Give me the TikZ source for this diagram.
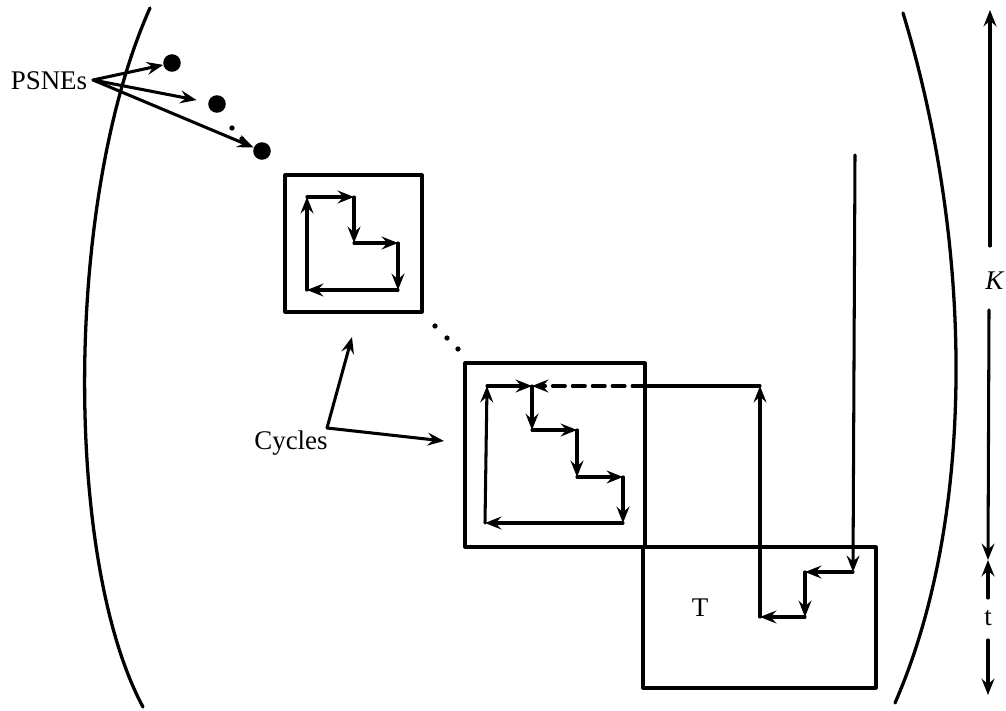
\documentclass[tikz,border=0pt]{standalone}
\usepackage{fontspec}
\setmainfont{Liberation Serif}
\usetikzlibrary{arrows.meta}

\begin{document}
\begin{tikzpicture}[
  x=0.03cm,
  y=-0.03cm,
  line cap=round,
  line join=round,
  >={Stealth[length=14pt,width=11pt,inset=5pt]},
  every node/.style={font=\fontsize{23}{27}\selectfont},
  edge/.style={line width=2.6pt},
  frame/.style={line width=2.6pt},
  bigdot/.style={circle,fill,inner sep=0pt,minimum size=15pt},
  smalldot/.style={circle,fill,inner sep=0pt,minimum size=4.5pt}
]
  \useasboundingbox (0,0) rectangle (1006,711);

  % Grenzkurven links und rechts
  \draw[line width=2.8pt]
    (150,8) .. controls (64,200) and (64,560) .. (143,707);
  \draw[line width=2.8pt]
    (903,13) .. controls (975,250) and (975,520) .. (895,703);

  % Gleichgewichte
  \node (psne) at (49,81) {PSNEs};
  \coordinate (psnefoot) at (93,80);
  \node[bigdot] (nash1) at (172,63) {};
  \node[bigdot] (nash2) at (217,104) {};
  \node[bigdot] (nash3) at (262,151) {};
  \node[smalldot] (gap1) at (232,128) {};
  \node[smalldot] (gap2) at (242,139) {};

  \draw[edge,->] (psnefoot) -- (nash1);
  \draw[edge,->,shorten >=10pt] (psnefoot) -- (nash2);
  \draw[edge,->] (psnefoot) -- (nash3);

  % Kaestchen
  \draw[frame] (285,175) rectangle (422,312);
  \draw[frame] (465,363) rectangle (645,547);
  \draw[frame] (643,547) rectangle (876,688);
  \node (tset) at (700,608) {T};

  % erster Zyklus
  \coordinate (a1) at (307,197);
  \coordinate (b1) at (354,197);
  \coordinate (c1) at (354,243);
  \coordinate (d1) at (398,243);
  \coordinate (e1) at (398,290);
  \coordinate (f1) at (307,290);
  \foreach \p/\q in {a1/b1,b1/c1,c1/d1,d1/e1,e1/f1,f1/a1}
    \draw[edge,->] (\p) -- (\q);

  % Punkte zwischen den Zyklen
  \node[smalldot] (mid1) at (435,326) {};
  \node[smalldot] (mid2) at (447,338) {};
  \node[smalldot] (mid3) at (458,349) {};

  % zweiter Zyklus
  \coordinate (a2) at (487,386);
  \coordinate (b2) at (532,386);
  \coordinate (c2) at (532,430);
  \coordinate (d2) at (577,430);
  \coordinate (e2) at (577,477);
  \coordinate (f2) at (623,477);
  \coordinate (g2) at (623,523);
  \coordinate (h2) at (485,523);
  \foreach \p/\q in {a2/b2,b2/c2,c2/d2,d2/e2,e2/f2,f2/g2,g2/h2,h2/a2}
    \draw[edge,->] (\p) -- (\q);

  % Weg nach T und zurueck
  \coordinate (start) at (855,155);
  \coordinate (t1) at (853,572);
  \coordinate (t2) at (805,572);
  \coordinate (t3) at (805,617);
  \coordinate (t4) at (760,617);
  \coordinate (t5) at (760,386);
  \coordinate (exit) at (645,386);
  \draw[edge,->] (start) -- (t1);
  \foreach \p/\q in {t1/t2,t2/t3,t3/t4,t4/t5}
    \draw[edge,->] (\p) -- (\q);
  \draw[edge] (t5) -- (exit);
  \draw[edge,->,dash pattern=on 11pt off 6pt] (exit) -- (b2);

  % Beschriftung der Zyklen
  \node (cycles) at (291,443) {Cycles};
  \coordinate (cycfoot) at (327,428);
  \draw[edge,->] (cycfoot) -- (352,337);
  \draw[edge,->] (cycfoot) -- (444,441);

  % Massstab rechts
  \coordinate (ktop) at (990,10);
  \coordinate (kup) at (990,246);
  \coordinate (kdown) at (989,310);
  \coordinate (meet) at (988,560);
  \coordinate (tup) at (988,598);
  \coordinate (tdown) at (988,640);
  \coordinate (tbot) at (988,695);
  \node (klab) at (995,281) {\textit{K}};
  \node (tlab) at (988,618) {t};
  \draw[edge,->] (kup) -- (ktop);
  \draw[edge,->] (kdown) -- (meet);
  \draw[edge,->] (tup) -- (meet);
  \draw[edge,->] (tdown) -- (tbot);
\end{tikzpicture}
\end{document}
